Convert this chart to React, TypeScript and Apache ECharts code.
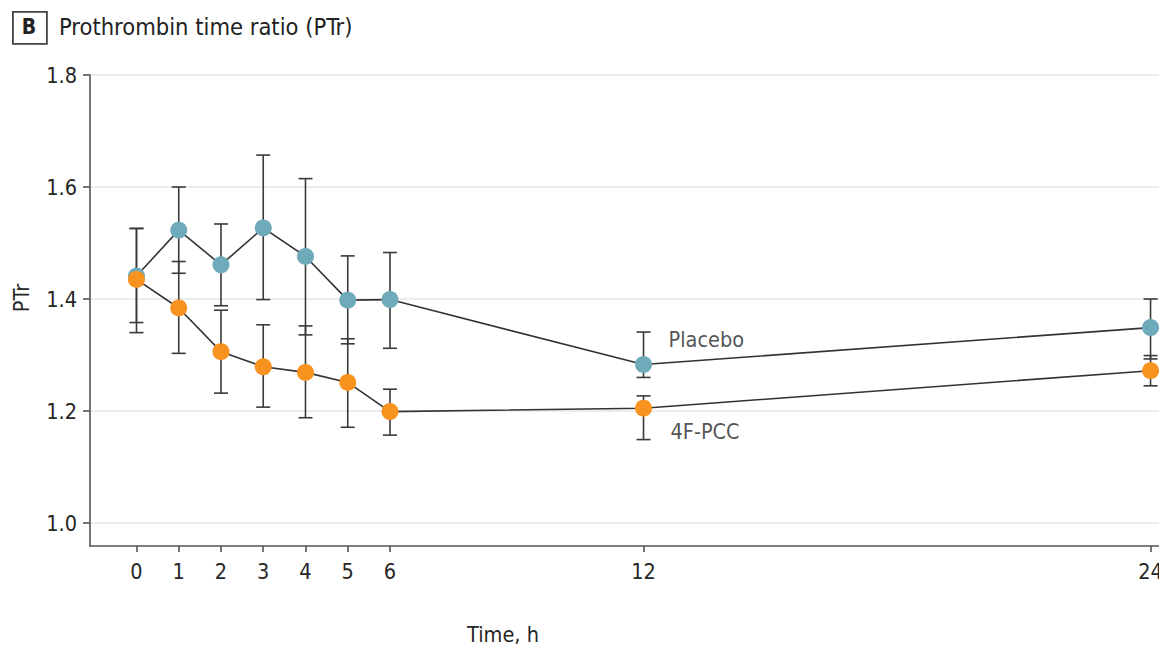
import React, { useEffect, useRef } from "react";
import * as echarts from "echarts";

const hours = [0, 1, 2, 3, 4, 5, 6, 12, 24];
const placeboMean = [1.441, 1.523, 1.461, 1.527, 1.476, 1.398, 1.399, 1.283, 1.349];
const placeboLow = [1.358, 1.446, 1.388, 1.399, 1.336, 1.320, 1.312, 1.260, 1.293];
const placeboHigh = [1.526, 1.600, 1.534, 1.657, 1.615, 1.477, 1.483, 1.341, 1.400];
const pccMean = [1.435, 1.384, 1.306, 1.279, 1.269, 1.251, 1.199, 1.205, 1.272];
const pccLow = [1.340, 1.303, 1.232, 1.207, 1.188, 1.171, 1.157, 1.149, 1.245];
const pccHigh = [1.526, 1.467, 1.380, 1.354, 1.352, 1.329, 1.239, 1.227, 1.299];
const yTicks = [1.0, 1.2, 1.4, 1.6, 1.8];
const xTicks = [0, 1, 2, 3, 4, 5, 6, 12, 24];

const FONT = "'DejaVu Sans Condensed', 'DejaVu Sans', sans-serif";
const TEXT = "#262626";
const BLUE = "#6faaba";
const ORANGE = "#f7931e";
const FS = 21.5;

function errorSeries(name: string, low: number[], high: number[]) {
  return {
    type: "custom",
    name,
    z: 2,
    silent: true,
    data: hours.map((h, i) => [h, low[i], high[i]]),
    encode: { x: 0, y: [1, 2] },
    renderItem: (params: any, api: any) => {
      const x = api.value(0);
      const lo = api.coord([x, api.value(1)]);
      const hi = api.coord([x, api.value(2)]);
      const cap = 7;
      const style = { stroke: "#3a3a3a", lineWidth: 1.6 };
      return {
        type: "group",
        children: [
          { type: "line", shape: { x1: lo[0], y1: lo[1], x2: hi[0], y2: hi[1] }, style },
          { type: "line", shape: { x1: hi[0] - cap, y1: hi[1], x2: hi[0] + cap, y2: hi[1] }, style },
          { type: "line", shape: { x1: lo[0] - cap, y1: lo[1], x2: lo[0] + cap, y2: lo[1] }, style },
        ],
      };
    },
  };
}

export default function App() {
  const ref = useRef<HTMLDivElement>(null);
  useEffect(() => {
    if (!ref.current) return;
    const chart = echarts.init(ref.current, null, { renderer: "svg" });
    chart.setOption({
      animation: false,
      backgroundColor: "#ffffff",
      textStyle: { fontFamily: FONT },
      grid: { left: 90, right: 0, top: 75, bottom: 102, containLabel: false, outerBoundsMode: "none" },
      graphic: [
        {
          type: "rect",
          left: 12,
          top: 11,
          shape: { width: 34, height: 32 },
          style: { fill: "#fff", stroke: "#444", lineWidth: 1.8 },
        },
        {
          type: "text",
          x: 29,
          y: 27,
          style: { text: "B", font: `bold 21px ${FONT}`, fill: "#222", align: "center", verticalAlign: "middle" },
        },
        {
          type: "text",
          x: 59,
          y: 27,
          style: { text: "Prothrombin time ratio (PTr)", font: `23.5px ${FONT}`, fill: "#222", verticalAlign: "middle" },
        },
        {
          type: "text",
          x: 503,
          y: 634,
          style: { text: "Time, h", font: `${FS}px ${FONT}`, fill: TEXT, align: "center", verticalAlign: "middle" },
        },
        {
          type: "text",
          x: 21,
          y: 298,
          rotation: Math.PI / 2,
          style: { text: "PTr", font: `${FS}px ${FONT}`, fill: TEXT, align: "center", verticalAlign: "middle" },
        },
      ],
      xAxis: {
        type: "value",
        min: -1.1,
        max: 24.2,
        axisLine: { show: true, onZero: false, lineStyle: { color: "#555", width: 1.6 } },
        axisTick: { show: true, customValues: xTicks, length: 6, lineStyle: { color: "#555", width: 1.6 } },
        axisLabel: { customValues: xTicks, fontSize: FS, color: TEXT, margin: 14, fontFamily: FONT },
        splitLine: { show: false },
      },
      yAxis: {
        type: "value",
        min: 0.959,
        max: 1.8,
        axisLine: { show: true, onZero: false, lineStyle: { color: "#555", width: 1.6 } },
        axisTick: { show: true, customValues: yTicks, length: 7, lineStyle: { color: "#555", width: 1.6 } },
        axisLabel: {
          customValues: yTicks,
          fontSize: FS,
          color: TEXT,
          margin: 13,
          fontFamily: FONT,
          formatter: (v: number) => v.toFixed(1),
        },
        splitLine: { show: false },
      },
      series: [
        {
          type: "line",
          name: "grid",
          data: [],
          silent: true,
          z: 0,
          markLine: {
            silent: true,
            symbol: "none",
            z: 0,
            label: { show: false },
            lineStyle: { color: "#e6e6e6", width: 1.6, type: "solid" },
            data: yTicks.map((v) => ({ yAxis: v })),
          },
        },
        errorSeries("placeboErr", placeboLow, placeboHigh),
        errorSeries("pccErr", pccLow, pccHigh),
        {
          type: "line",
          name: "Placebo",
          z: 3,
          data: hours.map((h, i) => [h, placeboMean[i]]),
          symbol: "circle",
          symbolSize: 17,
          itemStyle: { color: BLUE, borderWidth: 0 },
          lineStyle: { color: "#333", width: 1.6 },
        },
        {
          type: "line",
          name: "4F-PCC",
          z: 4,
          data: hours.map((h, i) => [h, pccMean[i]]),
          symbol: "circle",
          symbolSize: 17,
          itemStyle: { color: ORANGE, borderWidth: 0 },
          lineStyle: { color: "#333", width: 1.6 },
        },
        {
          type: "scatter",
          name: "labels",
          z: 5,
          silent: true,
          symbolSize: 0,
          data: [
            { value: [12, placeboMean[7]], label: { formatter: "Placebo", offset: [20, -25] } },
            { value: [12, pccMean[7]], label: { formatter: "4F-PCC", offset: [22, 23] } },
          ],
          label: {
            show: true,
            position: "right",
            fontSize: FS,
            color: TEXT,
            fontFamily: FONT,
          },
        },
      ],
    });
    return () => chart.dispose();
  }, []);
  return (
    <div
      ref={ref}
      style={{ position: "fixed", left: 0, top: 0, width: 1159, height: 648, background: "#fff" }}
    />
  );
}
